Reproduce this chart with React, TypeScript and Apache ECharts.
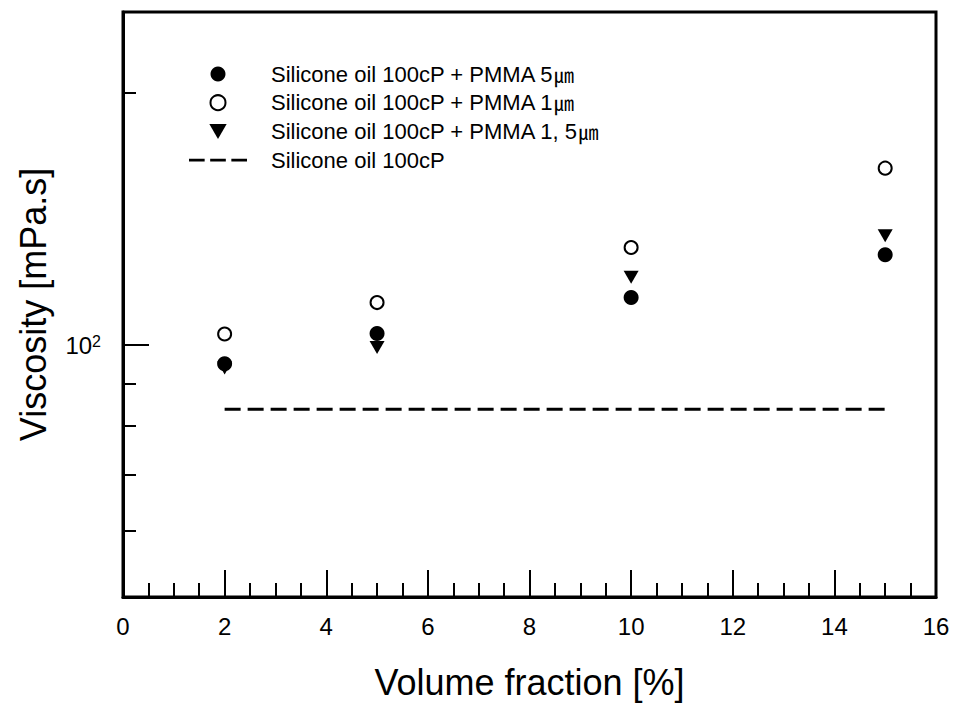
import { useEffect, useRef } from "react";
import * as echarts from "echarts";

// Measured viscosity [mPa.s] against particle volume fraction [%]
const volumeFractions = [2, 5, 10, 15];
const pmma5um = [95.0, 103.2, 114.0, 128.2];
const pmma1um = [103.1, 112.4, 130.8, 162.7];
const pmmaMixed = [93.9, 99.3, 120.5, 135.1];

// Pure silicone oil reference level
const baseOilRange = [2, 15];
const baseOilViscosity = 83.8;

const seriesNames = [
  "Silicone oil 100cP + PMMA 5㎛",
  "Silicone oil 100cP + PMMA 1㎛",
  "Silicone oil 100cP + PMMA 1, 5㎛",
  "Silicone oil 100cP",
];

// Axis ranges and tick positions
const xRange = [0, 16];
const xMajorStep = 2;
const yRange = [50, 250];
const yMinorTicks = [60, 70, 80, 90, 200];
const yMajorTicks = [100];

const FONT = "'Liberation Sans', Arial, sans-serif";
const UNIT_FONT = "'Noto Sans CJK KR', 'Liberation Sans', sans-serif";
const DOWN_TRIANGLE = "path://M0,0L2,0L1,1.732Z";
const DASHED_ICON = "path://M0,0h17v3h-17z M23,0h17v3h-17z M46,0h17v3h-17z";

const pairs = (ys: number[]) => volumeFractions.map((x, i) => [x, ys[i]]);

export default function App() {
  const ref = useRef<HTMLDivElement>(null);

  useEffect(() => {
    if (!ref.current) return;
    const chart = echarts.init(ref.current, undefined, { renderer: "svg" });

    const logAxisBase = {
      type: "log" as const,
      logBase: 10,
      min: yRange[0],
      max: yRange[1],
      position: "left" as const,
      splitLine: { show: false },
      minorTick: { show: false },
      minorSplitLine: { show: false },
    };

    chart.setOption({
      animation: false,
      backgroundColor: "#ffffff",
      textStyle: { fontFamily: FONT, color: "#000" },
      grid: {
        left: 123,
        right: 21,
        top: 12,
        bottom: 110,
        show: true,
        borderColor: "#000",
        borderWidth: 3,
        backgroundColor: "transparent",
      },
      legend: {
        orient: "vertical",
        left: 189,
        top: 63,
        padding: 0,
        itemWidth: 58,
        itemHeight: 15,
        itemGap: 6.7,
        selectedMode: false,
        data: [
          { name: seriesNames[0] },
          { name: seriesNames[1] },
          { name: seriesNames[2] },
          { name: seriesNames[3], icon: DASHED_ICON },
        ],
        formatter: (name: string) =>
          name.endsWith("㎛") ? `{t|${name.slice(0, -1)}}{u|㎛}` : `{t|${name}}`,
        textStyle: {
          fontFamily: FONT,
          fontSize: 22,
          lineHeight: 22,
          color: "#000",
          padding: [0, 0, 0, 19],
          rich: {
            t: { fontFamily: FONT, fontSize: 22, lineHeight: 22, color: "#000" },
            u: { fontFamily: UNIT_FONT, fontSize: 20, lineHeight: 22, color: "#000" },
          },
        },
      },
      xAxis: {
        type: "value",
        min: xRange[0],
        max: xRange[1],
        interval: xMajorStep,
        name: "Volume fraction [%]",
        nameLocation: "middle",
        nameGap: 67,
        nameTextStyle: { fontFamily: FONT, fontSize: 36, color: "#000" },
        axisLine: { show: true, lineStyle: { color: "#000", width: 3 } },
        axisTick: {
          show: true,
          inside: true,
          length: 27,
          lineStyle: { color: "#000", width: 2 },
        },
        minorTick: {
          show: true,
          splitNumber: 4,
          length: 14,
          lineStyle: { color: "#000", width: 2 },
        },
        axisLabel: {
          fontFamily: FONT,
          fontSize: 24,
          color: "#000",
          margin: 17,
        },
        splitLine: { show: false },
      },
      yAxis: [
        {
          ...logAxisBase,
          name: "Viscosity [mPa.s]",
          nameLocation: "middle",
          nameGap: 72,
          nameTextStyle: { fontFamily: FONT, fontSize: 36, color: "#000" },
          axisLine: { show: true, lineStyle: { color: "#000", width: 3 } },
          axisTick: {
            show: true,
            inside: true,
            length: 13,
            customValues: yMinorTicks,
            lineStyle: { color: "#000", width: 2 },
          },
          axisLabel: { show: false },
        },
        {
          ...logAxisBase,
          offset: 0,
          axisLine: { show: false },
          axisTick: {
            show: true,
            inside: true,
            length: 26,
            customValues: yMajorTicks,
            lineStyle: { color: "#000", width: 2 },
          },
          axisLabel: {
            show: true,
            customValues: yMajorTicks,
            margin: 22,
            fontSize: 24,
            fontFamily: FONT,
            color: "#000",
            formatter: (v: number) => `{b|10}{s|${Math.round(Math.log10(v))}}`,
            rich: {
              b: { fontFamily: FONT, fontSize: 24, lineHeight: 24, color: "#000" },
              s: {
                fontFamily: FONT,
                fontSize: 16,
                lineHeight: 16,
                color: "#000",
                verticalAlign: "top",
                padding: [0, 0, 8, 0],
              },
            },
          },
        },
      ],
      series: [
        {
          name: seriesNames[0],
          type: "scatter",
          yAxisIndex: 0,
          symbol: "circle",
          symbolSize: 15,
          itemStyle: { color: "#000", opacity: 1 },
          data: pairs(pmma5um),
        },
        {
          name: seriesNames[1],
          type: "scatter",
          yAxisIndex: 0,
          symbol: "circle",
          symbolSize: 13,
          itemStyle: { color: "#fff", borderColor: "#000", borderWidth: 2, opacity: 1 },
          data: pairs(pmma1um),
        },
        {
          name: seriesNames[2],
          type: "scatter",
          yAxisIndex: 0,
          symbol: DOWN_TRIANGLE,
          symbolSize: [15, 13],
          itemStyle: { color: "#000", opacity: 1 },
          data: pairs(pmmaMixed),
        },
        {
          name: seriesNames[3],
          type: "line",
          yAxisIndex: 0,
          symbol: "none",
          lineStyle: { color: "#000", width: 3, type: [16, 7] },
          itemStyle: { color: "#000" },
          data: baseOilRange.map((x) => [x, baseOilViscosity]),
        },
      ],
    });

    return () => chart.dispose();
  }, []);

  return (
    <div
      ref={ref}
      style={{ position: "absolute", left: 0, top: 0, width: 957, height: 707 }}
    />
  );
}
